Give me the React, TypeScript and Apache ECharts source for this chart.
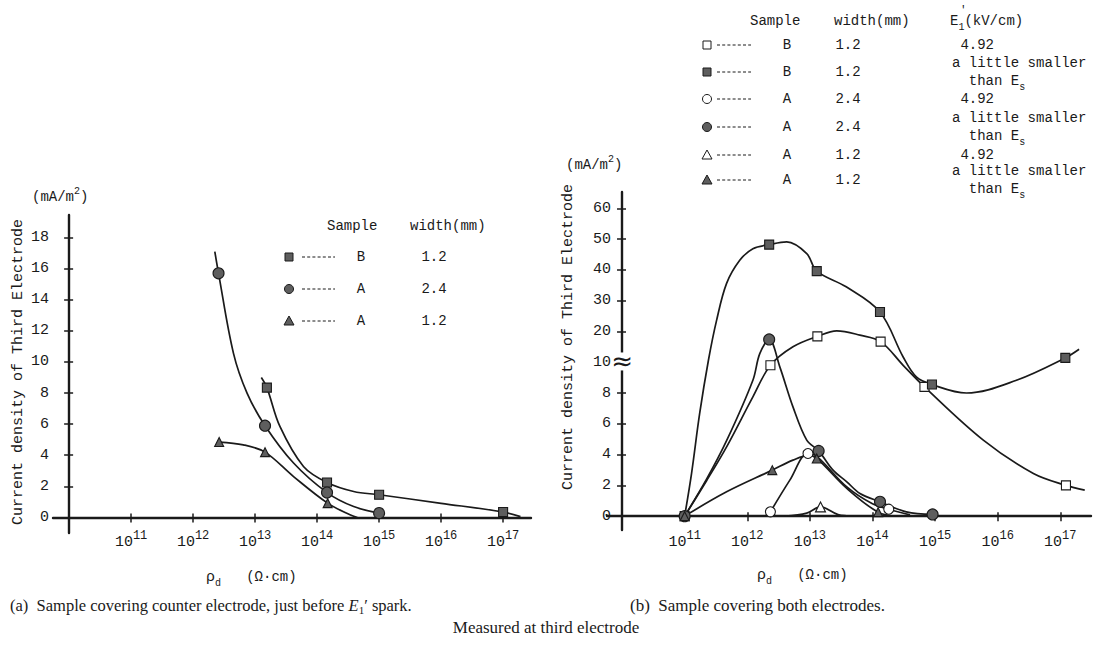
import React, { useEffect, useRef } from "react";
import * as echarts from "echarts";

const MONO = '"Liberation Mono", "DejaVu Sans Mono", monospace';
const SERIF = '"Liberation Serif", "DejaVu Serif", serif';
const INK = "#1a1a1a";
const GRAY = "#5e5e5e";

// x values are log10(rho_d); the axes cross at rho_d = 10^10
const EXP_ORIGIN = 10;
const X_TICK_EXPS = [11, 12, 13, 14, 15, 16, 17];

// ---------- Panel (a): sample covering counter electrode ----------
const aYTicks = [0, 2, 4, 6, 8, 10, 12, 14, 16, 18];

const aSqCurveExp = [13.1, 13.19, 13.4, 13.78, 14.16, 14.59, 15.0, 16.0, 17.0, 17.28];
const aSqCurveJ = [9.0, 8.35, 5.85, 3.28, 2.25, 1.67, 1.46, 0.91, 0.35, 0.05];
const aSqMarkExp = [13.19, 14.16, 15.0, 17.0];
const aSqMarkJ = [8.35, 2.25, 1.46, 0.35];

const aCiCurveExp = [12.35, 12.41, 12.65, 12.87, 13.16, 13.62, 14.16, 14.59, 15.0];
const aCiCurveJ = [17.1, 15.7, 10.57, 8.0, 5.9, 3.5, 1.6, 0.7, 0.28];
const aCiMarkExp = [12.41, 13.16, 14.16, 15.0];
const aCiMarkJ = [15.7, 5.9, 1.6, 0.28];

const aTrCurveExp = [12.42, 12.81, 13.16, 13.62, 14.17, 14.53, 14.65];
const aTrCurveJ = [4.85, 4.67, 4.2, 2.63, 0.92, 0.17, 0.0];
const aTrMarkExp = [12.42, 13.16, 14.17];
const aTrMarkJ = [4.85, 4.2, 0.92];

const aLegendSample = ["B", "A", "A"];
const aLegendWidth = ["1.2", "2.4", "1.2"];
const aLegendKind = ["sqF", "ciF", "trF"];

// ---------- Panel (b): sample covering both electrodes ----------
// broken axis: 0..10 linear, above 10 compressed 5x
const B_BREAK = 10;
const B_COMPRESS = 5;
const bYTicks = [0, 2, 4, 6, 8, 10, 20, 30, 40, 50, 60];

const bSqFCurveExp = [11.0, 11.11, 11.24, 11.38, 11.51, 11.67, 11.88, 12.09, 12.35, 12.63, 12.95, 13.11, 13.58, 14.12, 14.49, 14.7, 14.95, 15.5, 16.3, 17.08, 17.3];
const bSqFCurveJ = [0, 2.77, 6.67, 10.65, 23.6, 35.6, 43.1, 46.9, 48.2, 49.1, 45.3, 39.6, 34.5, 26.3, 11.7, 9.05, 8.55, 8.0, 8.83, 11.4, 14.2];
const bSqFMarkExp = [11.0, 12.35, 13.11, 14.12, 14.95, 17.08];
const bSqFMarkJ = [0, 48.2, 39.6, 26.3, 8.55, 11.4];

const bSqOCurveExp = [11.0, 11.35, 11.67, 12.09, 12.37, 12.73, 13.12, 13.43, 13.8, 14.13, 14.49, 14.83, 15.77, 16.57, 17.09, 17.39];
const bSqOCurveJ = [0, 2.3, 4.5, 7.75, 9.8, 15.0, 18.4, 20.2, 18.8, 16.7, 9.8, 8.4, 4.94, 2.77, 2.0, 1.69];
const bSqOMarkExp = [12.37, 13.12, 14.13, 14.83, 17.09];
const bSqOMarkJ = [9.8, 18.4, 16.7, 8.4, 2.0];

const bCiFCurveExp = [11.0, 11.35, 11.67, 12.09, 12.2, 12.35, 12.52, 12.73, 12.95, 13.14, 13.37, 13.59, 13.8, 14.12, 14.54, 14.96];
const bCiFCurveJ = [0, 2.4, 4.9, 8.83, 12.8, 17.4, 9.7, 7.1, 4.94, 4.24, 2.99, 2.23, 1.47, 0.93, 0.28, 0.11];
const bCiFMarkExp = [11.0, 12.35, 13.14, 14.12, 14.96];
const bCiFMarkJ = [0, 17.4, 4.24, 0.93, 0.11];

const bCiOCurveExp = [12.37, 12.68, 12.97, 13.12, 13.59, 14.0, 14.26, 14.6];
const bCiOCurveJ = [0.28, 2.34, 4.07, 3.85, 1.9, 0.8, 0.45, 0.08];
const bCiOMarkExp = [12.37, 12.97, 14.26];
const bCiOMarkJ = [0.28, 4.07, 0.45];

const bTrFCurveExp = [11.0, 11.67, 12.4, 12.73, 12.98, 13.11, 13.59, 14.09, 14.4];
const bTrFCurveJ = [0, 1.58, 2.99, 3.64, 3.95, 3.75, 1.8, 0.26, 0.0];
const bTrFMarkExp = [11.0, 12.4, 13.11, 14.09];
const bTrFMarkJ = [0, 2.99, 3.75, 0.26];

const bTrOCurveExp = [12.6, 12.95, 13.17, 13.45, 13.7];
const bTrOCurveJ = [0, 0.2, 0.6, 0.1, 0];
const bTrOMarkExp = [13.17];
const bTrOMarkJ = [0.6];

const bLegendKind = ["sqO", "sqF", "ciO", "ciF", "trO", "trF"];
const bLegendSample = ["B", "B", "A", "A", "A", "A"];
const bLegendWidth = ["1.2", "1.2", "2.4", "2.4", "1.2", "1.2"];
const bLegendField = ["4.92", "small", "4.92", "small", "4.92", "small"];

const toDisp = (v: number) => (v <= B_BREAK ? v : B_BREAK + (v - B_BREAK) / B_COMPRESS);
const fromDisp = (d: number) => (d <= B_BREAK + 1e-9 ? d : B_BREAK + (d - B_BREAK) * B_COMPRESS);
const ident = (v: number) => v;

const MARK: Record<string, { symbol: string; size: number; fill: string }> = {
  sqF: { symbol: "rect", size: 9, fill: GRAY },
  sqO: { symbol: "rect", size: 9, fill: "#fff" },
  ciF: { symbol: "circle", size: 11, fill: GRAY },
  ciO: { symbol: "circle", size: 10, fill: "#fff" },
  trF: { symbol: "triangle", size: 9, fill: GRAY },
  trO: { symbol: "triangle", size: 10, fill: "#fff" },
};

function pairs(xs: number[], ys: number[], mapY: (v: number) => number) {
  return xs.map((x, i) => [x - EXP_ORIGIN, mapY(ys[i])]);
}

function curve(xs: number[], ys: number[], g: number, mapY: (v: number) => number) {
  return {
    type: "line",
    xAxisIndex: g,
    yAxisIndex: g,
    data: pairs(xs, ys, mapY),
    smooth: 0.35,
    symbol: "none",
    silent: true,
    lineStyle: { color: INK, width: 1.7 },
    z: 2,
  };
}

function marks(xs: number[], ys: number[], g: number, mapY: (v: number) => number, kind: string) {
  const m = MARK[kind];
  return {
    type: "scatter",
    xAxisIndex: g,
    yAxisIndex: g,
    data: pairs(xs, ys, mapY),
    symbol: m.symbol,
    symbolSize: m.size,
    silent: true,
    itemStyle: { color: m.fill, borderColor: INK, borderWidth: 1.1, opacity: 1 },
    z: 4,
  };
}

function icon(kind: string, cx: number, cy: number) {
  const m = MARK[kind];
  const style = { fill: m.fill, stroke: INK, lineWidth: 1 };
  if (m.symbol === "rect") return { type: "rect", shape: { x: cx - 4, y: cy - 4, width: 8, height: 8 }, style };
  if (m.symbol === "circle") return { type: "circle", shape: { cx, cy, r: 4.5 }, style };
  return { type: "polygon", shape: { points: [[cx, cy - 5], [cx + 5, cy + 4], [cx - 5, cy + 4]] }, style };
}

const richBase = {
  b: { fontSize: 14, fontFamily: MONO, fill: INK, color: INK, lineHeight: 22, verticalAlign: "middle" },
  sub: { fontSize: 10, fontFamily: MONO, fill: INK, color: INK, lineHeight: 10, verticalAlign: "bottom" },
  sup: { fontSize: 10, fontFamily: MONO, fill: INK, color: INK, lineHeight: 10, verticalAlign: "top" },
};

function txt(text: string, x: number, y: number, o: any = {}) {
  return {
    type: "text",
    x,
    y,
    rotation: o.rot || 0,
    silent: true,
    style: {
      text,
      fill: INK,
      fontSize: o.size || 14,
      fontFamily: o.family || MONO,
      fontStyle: o.style || "normal",
      align: o.align || "left",
      verticalAlign: "middle",
      rich: o.rich,
    },
  };
}

function dashes(x1: number, x2: number, y: number) {
  return {
    type: "line",
    silent: true,
    shape: { x1, y1: y, x2, y2: y },
    style: { stroke: INK, lineWidth: 1, lineDash: [3, 2.2] },
  };
}

function buildGraphics() {
  const g: any[] = [];
  // axis titles
  g.push(txt("Current density of Third Electrode", 18, 372, { rot: Math.PI / 2, align: "center", size: 15 }));
  g.push(txt("Current density of Third Electrode", 568, 337, { rot: Math.PI / 2, align: "center", size: 15 }));
  g.push(txt("{b|(mA/m}{sup|2}{b|)}", 32, 197, { rich: richBase }));
  g.push(txt("{b|(mA/m}{sup|2}{b|)}", 566, 165, { rich: richBase }));
  g.push(txt("{r|ρ}{sub|d}{b|   (Ω·cm)}", 206, 577, {
    rich: { ...richBase, r: { ...richBase.b, fontSize: 15 } },
  }));
  g.push(txt("{r|ρ}{sub|d}{b|   (Ω·cm)}", 757, 575, {
    rich: { ...richBase, r: { ...richBase.b, fontSize: 15 } },
  }));

  // legend (a)
  g.push(txt("Sample", 327, 226, { size: 14 }));
  g.push(txt("width(mm)", 410, 226, { size: 14 }));
  aLegendKind.forEach((k, i) => {
    const y = 257 + i * 32;
    g.push(icon(k, 289, y));
    g.push(dashes(302, 335, y));
    g.push(txt(aLegendSample[i], 361, y, { align: "center" }));
    g.push(txt(aLegendWidth[i], 434, y, { align: "center" }));
  });

  // legend (b)
  g.push(txt("Sample", 750, 21, { size: 14 }));
  g.push(txt("width(mm)", 834, 21, { size: 14 }));
  g.push(txt("{b|E}{sub|1}{b|(kV/cm)}", 950, 21, { rich: richBase }));
  g.push(txt("'", 960, 10, { size: 11 }));
  const rowsY = [45, 72, 99, 127, 155, 180];
  bLegendKind.forEach((k, i) => {
    const y = rowsY[i];
    g.push(icon(k, 707, y));
    g.push(dashes(717, 751, y));
    g.push(txt(bLegendSample[i], 787, y, { align: "center" }));
    g.push(txt(bLegendWidth[i], 848, y, { align: "center" }));
    if (bLegendField[i] === "small") {
      g.push(txt("a little smaller", 952, y - 9));
      g.push(txt("{b|  than E}{sub|s}", 952, y + 9, { rich: richBase }));
    } else {
      g.push(txt(" " + bLegendField[i], 952, y));
    }
  });

  // captions
  const capRich = (size: number) => ({
    t: { fontSize: size, fontFamily: SERIF, fill: INK, lineHeight: 20, verticalAlign: "middle" },
    i: { fontSize: size, fontFamily: SERIF, fontStyle: "italic", fill: INK, lineHeight: 20, verticalAlign: "middle" },
    s: { fontSize: 11, fontFamily: SERIF, fill: INK, lineHeight: 10, verticalAlign: "bottom" },
  });
  g.push(txt("{t|(a)  Sample covering counter electrode, just before }{i|E}{s|1}{t|′ spark.}", 10, 605, { rich: capRich(16.5) }));
  g.push(txt("{t|(b)  Sample covering both electrodes.}", 630, 605, { rich: capRich(17) }));
  g.push(txt("{t|Measured at third electrode}", 546, 627, { rich: capRich(17), align: "center" }));
  return g;
}

const xLabelRich = {
  b: { fontSize: 15, fontFamily: MONO, color: INK, lineHeight: 20, verticalAlign: "bottom" },
  s: { fontSize: 12, fontFamily: MONO, color: INK, lineHeight: 12, verticalAlign: "top" },
};

const X_TICK_VALS = X_TICK_EXPS.map((e) => e - EXP_ORIGIN);

function xAxisFor(g: number, min: number, max: number, margin: number) {
  return {
    type: "value",
    gridIndex: g,
    position: "bottom",
    min,
    max,
    axisLine: { onZero: true, onZeroAxisIndex: g, lineStyle: { color: INK, width: 2.4 } },
    axisTick: { customValues: X_TICK_VALS, length: 5, inside: false, lineStyle: { color: INK, width: 1.5 } },
    axisLabel: {
      customValues: X_TICK_VALS,
      margin,
      formatter: (v: number) => `{b|10}{s|${Math.round(v + EXP_ORIGIN)}}`,
      rich: xLabelRich,
    },
    splitLine: { show: false },
  };
}

// companion axis that only draws the inner half of each tick, so ticks cross the axis line
function xInnerTicks(g: number, min: number, max: number) {
  return {
    type: "value",
    gridIndex: g,
    position: "bottom",
    min,
    max,
    axisLine: { show: false, onZero: true, onZeroAxisIndex: g },
    axisTick: { customValues: X_TICK_VALS, length: 4, inside: true, lineStyle: { color: INK, width: 1.5 } },
    axisLabel: { show: false },
    splitLine: { show: false },
  };
}

function yAxisFor(g: number, min: number, max: number, ticks: number[], mapY: (v: number) => number, inv: (d: number) => number, margin: number) {
  const vals = ticks.map(mapY);
  return {
    type: "value",
    gridIndex: g,
    position: "left",
    min,
    max,
    axisLine: { onZero: true, onZeroAxisIndex: g, lineStyle: { color: INK, width: 2.4 } },
    axisTick: { customValues: vals.filter((v) => v !== 0), length: 5, lineStyle: { color: INK, width: 1.5 } },
    axisLabel: {
      customValues: vals,
      margin,
      fontSize: 15,
      fontFamily: MONO,
      color: INK,
      formatter: (d: number) => String(Math.round(inv(d))),
    },
    splitLine: { show: false },
  };
}

function yInnerTicks(g: number, min: number, max: number, ticks: number[], mapY: (v: number) => number) {
  const vals = ticks.map(mapY).filter((v) => v !== 0);
  return {
    type: "value",
    gridIndex: g,
    position: "left",
    min,
    max,
    axisLine: { show: false, onZero: true, onZeroAxisIndex: g },
    axisTick: { customValues: vals, length: 4, inside: true, lineStyle: { color: INK, width: 1.5 } },
    axisLabel: { show: false },
    splitLine: { show: false },
  };
}

export default function App() {
  const ref = useRef<HTMLDivElement>(null);
  useEffect(() => {
    if (!ref.current) return;
    const chart = echarts.init(ref.current, undefined, { renderer: "svg" });
    const breakSeries = {
      type: "scatter",
      xAxisIndex: 1,
      yAxisIndex: 1,
      data: [],
      silent: true,
      markPoint: {
        silent: true,
        symbol: "rect",
        symbolSize: 1,
        itemStyle: { color: "rgba(0,0,0,0)" },
        label: {
          show: true,
          position: "inside",
          formatter: "≈",
          fontSize: 26,
          fontFamily: '"DejaVu Sans", sans-serif',
          color: INK,
          backgroundColor: "#fff",
          padding: [0, 0],
          lineHeight: 18,
        },
        data: [{ coord: [0, toDisp(B_BREAK) + 0.05] }],
      },
      z: 5,
    };
    chart.setOption({
      animation: false,
      backgroundColor: "#fff",
      textStyle: { fontFamily: MONO },
      grid: [
        { left: 53, top: 215, width: 478, height: 318 },
        { left: 607, top: 192, width: 484, height: 338 },
      ],
      xAxis: [
        xAxisFor(0, -0.26, 7.45, -3),
        xAxisFor(1, -0.24, 7.49, 0),
        xInnerTicks(0, -0.26, 7.45),
        xInnerTicks(1, -0.24, 7.49),
      ],
      yAxis: [
        yAxisFor(0, -1, 19.45, aYTicks, ident, ident, 4),
        yAxisFor(1, -0.9, 21.06, bYTicks, toDisp, fromDisp, -4),
        yInnerTicks(0, -1, 19.45, aYTicks, ident),
        yInnerTicks(1, -0.9, 21.06, bYTicks, toDisp),
      ],
      graphic: buildGraphics(),
      series: [
        curve(aSqCurveExp, aSqCurveJ, 0, ident),
        curve(aCiCurveExp, aCiCurveJ, 0, ident),
        curve(aTrCurveExp, aTrCurveJ, 0, ident),
        marks(aSqMarkExp, aSqMarkJ, 0, ident, "sqF"),
        marks(aCiMarkExp, aCiMarkJ, 0, ident, "ciF"),
        marks(aTrMarkExp, aTrMarkJ, 0, ident, "trF"),

        curve(bSqFCurveExp, bSqFCurveJ, 1, toDisp),
        curve(bSqOCurveExp, bSqOCurveJ, 1, toDisp),
        curve(bCiFCurveExp, bCiFCurveJ, 1, toDisp),
        curve(bCiOCurveExp, bCiOCurveJ, 1, toDisp),
        curve(bTrFCurveExp, bTrFCurveJ, 1, toDisp),
        curve(bTrOCurveExp, bTrOCurveJ, 1, toDisp),
        marks(bSqOMarkExp, bSqOMarkJ, 1, toDisp, "sqO"),
        marks(bSqFMarkExp, bSqFMarkJ, 1, toDisp, "sqF"),
        marks(bCiOMarkExp, bCiOMarkJ, 1, toDisp, "ciO"),
        marks(bCiFMarkExp, bCiFMarkJ, 1, toDisp, "ciF"),
        marks(bTrOMarkExp, bTrOMarkJ, 1, toDisp, "trO"),
        marks(bTrFMarkExp, bTrFMarkJ, 1, toDisp, "trF"),
        breakSeries,
      ],
    });
    return () => chart.dispose();
  }, []);
  return (
    <div
      ref={ref}
      style={{ position: "absolute", left: 0, top: 0, width: 1098, height: 645, background: "#fff" }}
    />
  );
}
